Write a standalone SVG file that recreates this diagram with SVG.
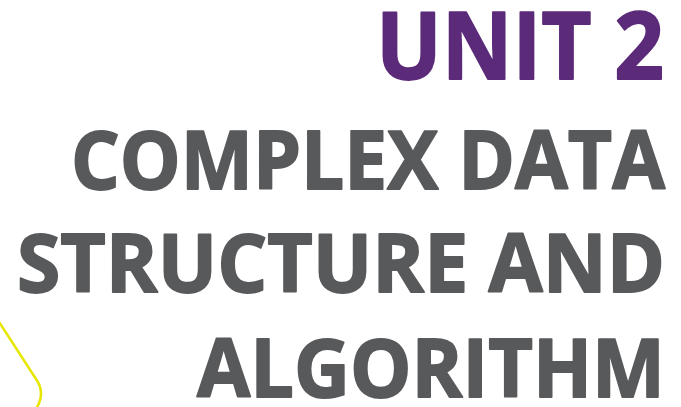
<svg xmlns="http://www.w3.org/2000/svg" width="681" height="407" viewBox="0 0 681 407">
  <style>
    .title { font-family: "Open Sans", "Liberation Sans", sans-serif; font-weight: 700; text-anchor: end; stroke-linejoin: round; }
    .unit { fill: #5b2a79; stroke: #5b2a79; stroke-width: 1.8; font-size: 94px; }
    .line { fill: #58595b; stroke: #58595b; stroke-width: 1.8; font-size: 81px; }
    .accent { fill: none; stroke: #e6e600; stroke-width: 2.5; stroke-linecap: round; }
  </style>
  <rect width="681" height="407" fill="#ffffff"/>
  <!-- decorative accent stroke, bottom left -->
  <path class="accent" d="M -1 322 L 36 379 Q 46 393 36 409"/>
  <g id="heading">
    <text class="title unit" x="664" y="79" textLength="288" lengthAdjust="spacingAndGlyphs">UNIT 2</text>
    <text class="title line" x="665" y="189" textLength="594" lengthAdjust="spacingAndGlyphs">COMPLEX DATA</text>
    <text class="title line" x="665" y="292" textLength="648" lengthAdjust="spacingAndGlyphs">STRUCTURE AND</text>
    <text class="title line" x="665" y="397" textLength="468" lengthAdjust="spacingAndGlyphs">ALGORITHM</text>
  </g>
</svg>
